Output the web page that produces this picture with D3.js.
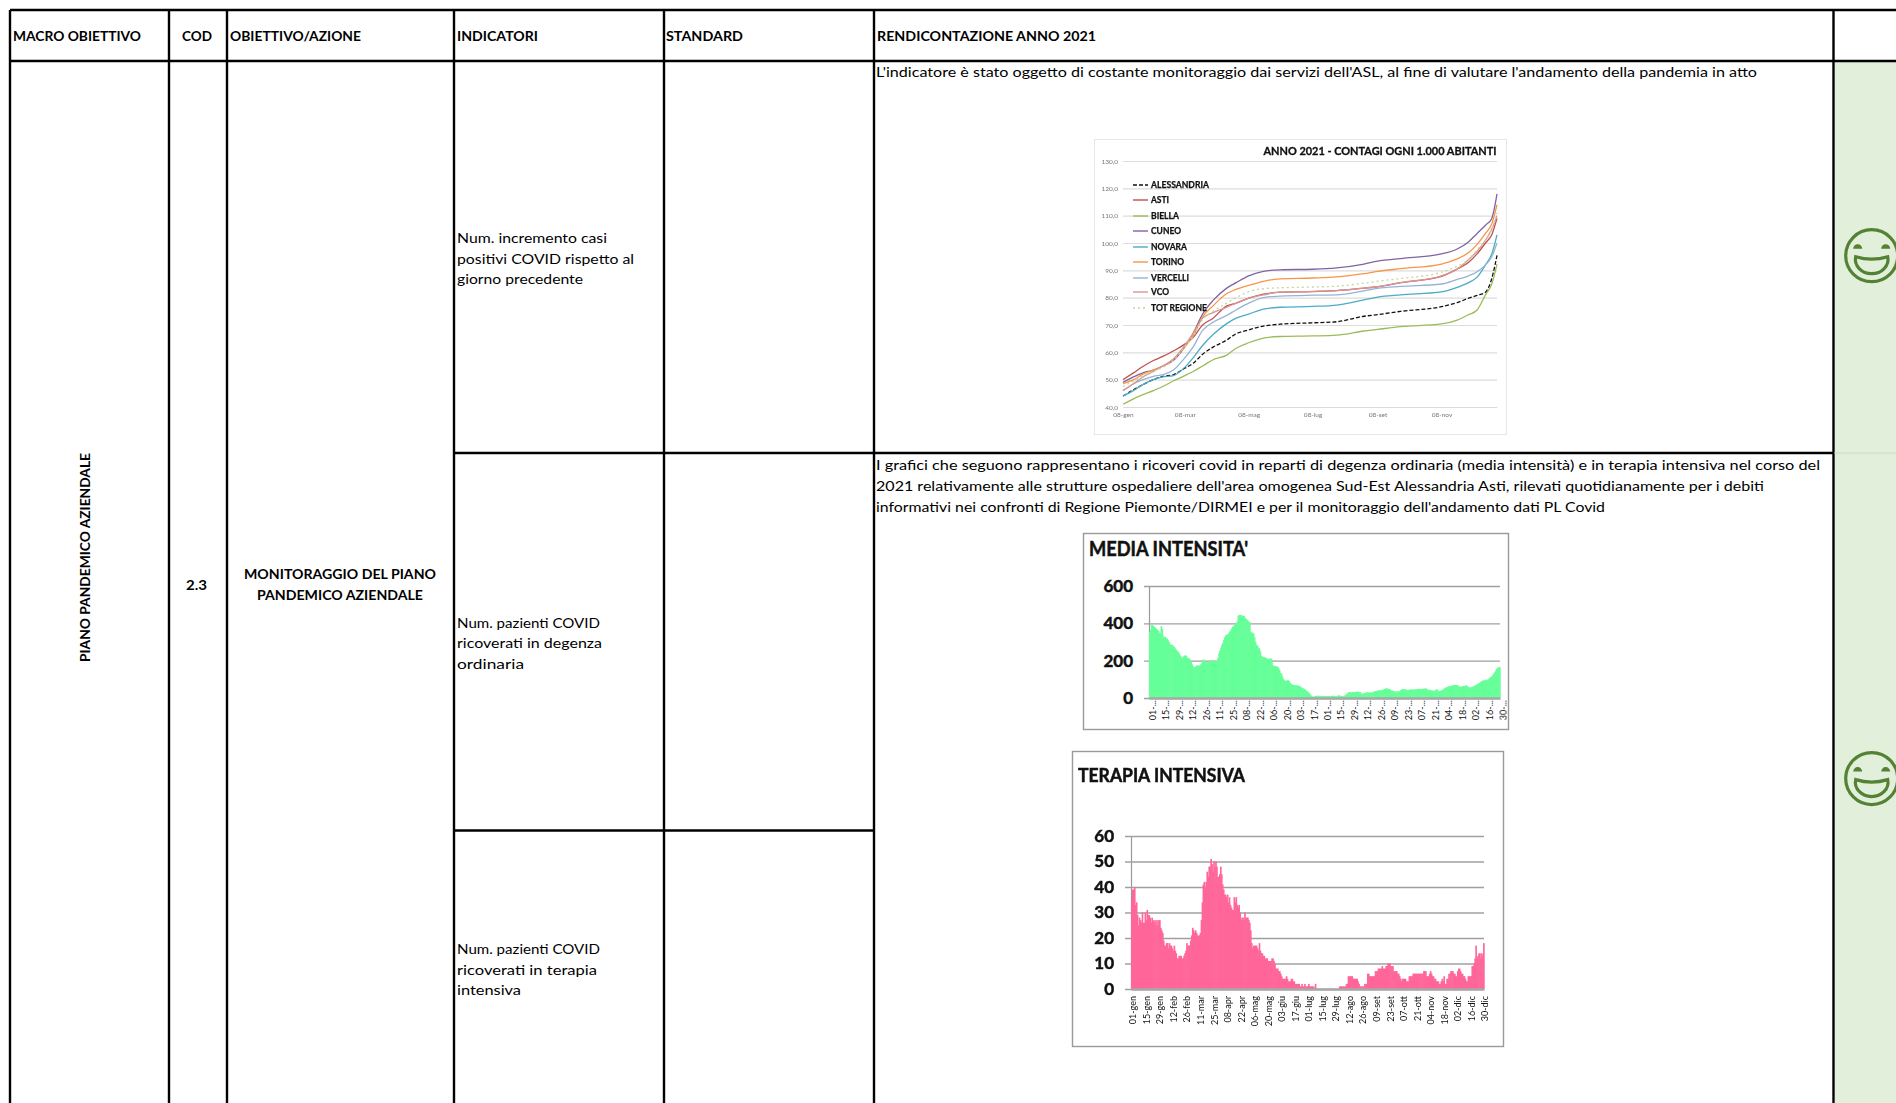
<!DOCTYPE html>
<html lang="it">
<head>
<meta charset="utf-8">
<title>Monitoraggio del piano pandemico aziendale</title>
<script src="https://cdn.jsdelivr.net/npm/d3@7"></script>
<style>
  html, body { margin: 0; background: #fff; overflow: hidden; }
  svg { display: block; font-family: Lato, "Open Sans", sans-serif; }
  .soft { filter: blur(0.55px); }
  .softer { filter: blur(0.3px); }
</style>
</head>
<body>
<svg id="sheet" width="1896" height="1103"></svg>
<script>
// ---- Contagi ogni 1.000 abitanti ----
const contagiDates = ["2021-01-08","2021-01-18","2021-01-27","2021-02-06","2021-02-15","2021-02-25","2021-03-08","2021-03-16","2021-03-25","2021-04-04","2021-04-17","2021-04-26","2021-05-08","2021-05-22","2021-06-07","2021-07-08","2021-07-31","2021-08-26","2021-09-08","2021-09-30","2021-11-08","2021-11-23","2021-12-04","2021-12-12","2021-12-20","2021-12-26","2021-12-31"];
const alessandria = [44,46.3,48.2,50,51.2,51.8,54.2,56,59.3,61.9,64.5,66.8,68.2,69.6,70.3,70.8,71.2,73.2,73.8,75,76.7,78.2,79.8,80.8,82,87,95.5];
const asti        = [50,52.5,54.8,57,58.5,60.5,63,65.5,70,72.5,77,78,79.8,81.3,82,82.2,82.6,83.5,84,85.5,87.8,90.5,93,96,100,103,109];
const biella      = [41,43,44.5,46,47.5,49.5,51.5,53,55,57.3,59,61.5,63.5,65.2,65.8,66,66.3,67.8,68.4,69.4,70.4,71.8,73.8,75.5,81,85,92.3];
const cuneo       = [49,51,52.5,53.5,55,57,62,67,74,79,83.5,85.5,88,89.6,90.2,90.4,90.9,92.3,93.4,94.3,96,97.8,100.5,103.5,106.5,109,118];
const novara      = [44,46,48.2,50,51,51.5,54.5,58,62.5,66.5,70.5,72.5,74,75.8,76.5,76.8,77.3,79.2,80.2,81,82.1,83.8,85.5,87.5,92,96,103];
const torino      = [48.5,50,52,53.5,55,57.5,62,66,73,77,81.5,83,84.5,86,86.9,87.2,87.6,88.8,89.6,90.6,92.3,94.2,96.5,99.5,103.5,107,114];
const vercelli    = [46,48.5,50,51.2,51.8,53.5,58,62,68,71,73.5,75.5,78,80,80.6,80.9,81,82.5,83.4,84.1,85,86.7,88,89.5,92,95,100];
const vco         = [46,48.5,51,53,55,57.5,62.5,67,72.5,74.5,76.5,78,79.8,81,82,82.3,82.6,83.5,84,85.5,88,90.5,94,97,101,105,110];
const totRegione  = [47.5,49.5,51.5,53,54.5,57,62,66,72,75,78,80,82.2,83.3,83.6,83.9,84.2,85.3,86,87,89.3,91.5,94,97.5,101,105,111];
const contagiNames  = ["ALESSANDRIA","ASTI","BIELLA","CUNEO","NOVARA","TORINO","VERCELLI","VCO","TOT REGIONE"];
const contagiValues = [alessandria,asti,biella,cuneo,novara,torino,vercelli,vco,totRegione];
const contagiColors = ["#111111","#c0504d","#9bbb59","#8064a2","#4bacc6","#f79646","#95b3d7","#d99694","#c3d69b"];
const contagiDashes = ["4 2",null,null,null,null,null,null,null,"2 3"];
const contagiYTicks = [40,50,60,70,80,90,100,110,120,130];
const contagiXTicks = ["2021-01-08","2021-03-08","2021-05-08","2021-07-08","2021-09-08","2021-11-08"];
const contagiXLabels = ["08-gen","08-mar","08-mag","08-lug","08-set","08-nov"];

// ---- Ricoveri giornalieri, 365 giorni, una riga ogni 14 giorni ----
const mediaIntensita = [
  355,365,395,390,385,380,375,370,365,360,350,345,385,370,
  330,325,328,320,318,310,300,290,285,285,282,275,270,262,
  255,250,245,235,225,215,215,222,225,230,225,215,215,210,
  205,195,180,170,165,165,170,175,175,170,175,180,185,205,
  205,195,195,190,195,195,195,195,200,200,200,198,195,200,
  200,215,240,255,270,285,295,310,325,335,340,340,345,355,
  360,370,380,385,390,395,400,410,440,445,445,445,440,440,
  440,430,425,420,415,410,405,355,350,350,345,325,300,285,
  280,270,265,250,225,220,220,220,215,215,210,210,205,212,
  212,205,175,172,172,170,168,168,160,150,135,130,115,100,
  95,92,92,95,95,90,80,75,72,70,70,68,68,68,
  66,65,62,60,55,52,50,48,42,38,35,30,25,20,
  12,8,7,8,10,10,12,12,12,10,10,12,10,10,
  10,10,10,10,10,10,10,10,12,12,10,10,10,10,
  14,14,12,10,8,10,12,14,18,22,28,30,32,30,
  30,32,30,32,32,34,32,34,30,32,24,22,24,26,
  26,30,30,30,28,30,28,30,30,34,36,36,38,40,
  40,42,42,40,44,44,48,50,52,50,50,48,45,40,
  40,38,36,34,34,36,34,36,36,42,46,48,48,46,
  46,44,42,44,44,46,46,46,44,46,46,46,48,48,
  50,48,48,50,48,50,50,52,48,44,44,42,42,40,
  40,38,38,42,46,46,36,38,38,40,42,46,50,54,
  56,58,60,62,62,64,66,68,68,70,68,70,68,66,
  60,60,60,62,64,62,66,68,64,58,58,56,55,60,
  60,62,66,70,72,74,78,80,85,90,92,94,95,95,
  98,95,100,105,110,112,118,125,132,140,150,158,162,165,165
];
const terapiaIntensiva = [
  35,39,39,40,33,34,29,25,28,27,26,30,26,26,
  30,27,31,29,29,28,26,28,27,26,27,25,27,25,
  27,27,24,23,22,19,17,17,18,18,16,18,17,17,
  16,15,17,15,14,12,12,13,13,13,12,12,13,14,
  15,18,17,17,17,19,21,24,23,22,23,22,21,21,
  21,22,27,34,41,42,40,42,46,44,48,48,51,49,
  46,50,48,50,48,44,44,45,48,45,41,39,37,37,
  36,37,34,36,33,32,31,31,36,34,36,33,32,33,
  30,27,28,28,27,30,28,28,28,27,26,23,18,16,
  17,17,17,17,16,15,18,15,14,14,13,13,12,12,
  12,11,11,11,11,12,12,11,10,8,8,8,7,7,
  6,5,4,4,4,4,5,4,3,3,3,4,4,3,
  3,2,2,2,2,2,1,1,2,1,1,2,1,1,
  1,2,1,1,1,1,1,0,2,0,0,0,0,0,
  0,0,0,0,0,0,0,0,0,0,0,0,0,0,
  0,0,0,0,0,1,1,1,1,1,1,1,2,2,
  5,5,5,5,5,4,4,4,4,4,3,2,1,1,
  1,1,1,2,2,2,6,6,5,5,5,5,5,5,
  7,7,7,8,8,8,8,9,8,8,8,9,9,10,
  10,10,9,9,9,7,7,7,7,6,6,5,4,3,
  4,4,4,4,3,3,3,5,5,5,5,6,6,6,
  6,6,6,6,6,6,6,6,7,7,7,5,5,5,
  6,7,6,5,5,4,4,3,3,3,2,2,3,4,
  3,5,2,2,4,4,6,6,7,7,7,6,6,5,
  5,7,8,8,7,6,6,5,5,4,3,3,5,5,
  5,5,9,9,10,12,17,12,13,14,14,12,14,13,18
];
const mediaYTicks = [0,200,400,600];
const terapiaYTicks = [0,10,20,30,40,50,60];
const mediaLabels = ["01-...","15-...","29-...","12-...","26-...","11-...","25-...","08-...","22-...","06-...","20-...","03-...","17-...","01-...","15-...","29-...","12-...","26-...","09-...","23-...","07-...","21-...","04-...","18-...","02-...","16-...","30-..."];
const terapiaLabels = ["01-gen","15-gen","29-gen","12-feb","26-feb","11-mar","25-mar","08-apr","22-apr","06-mag","20-mag","03-giu","17-giu","01-lug","15-lug","29-lug","12-ago","26-ago","09-set","23-set","07-ott","21-ott","04-nov","18-nov","02-dic","16-dic","30-dic"];

const svg = d3.select("#sheet");
const INK = "#000";

// Text helper: stretches a run to the width it occupies in the sheet
function put(g, str, x, y, w, opts = {}) {
  const t = g.append("text")
    .attr("x", x).attr("y", y)
    .attr("font-size", opts.size || 14)
    .attr("font-weight", opts.bold ? 700 : 400)
    .attr("fill", opts.fill || INK)
    .attr("text-anchor", opts.anchor || "start")
    .attr("textLength", w)
    .attr("lengthAdjust", "spacingAndGlyphs")
    .text(str);
  if (opts.heavy) t.attr("stroke", opts.fill || INK).attr("stroke-width", opts.heavy);
  return t;
}

// ---- Griglia della tabella ----
const table = svg.append("g");
table.append("rect").attr("x", 1835).attr("y", 62).attr("width", 61).attr("height", 1041).attr("fill", "#e2efda");

const rules = [
  [10,10,1896,10],[10,61,1896,61],
  [10,10,10,1103],[169,10,169,1103],[227,10,227,1103],[454,10,454,1103],
  [664,10,664,1103],[874,10,874,1103],[1833.5,10,1833.5,1103],
  [454,453,1834,453],[454,830.5,874,830.5]
];
table.selectAll("line.rule").data(rules).join("line").attr("class","rule")
  .attr("x1", d => d[0]).attr("y1", d => d[1]).attr("x2", d => d[2]).attr("y2", d => d[3])
  .attr("stroke", INK).attr("stroke-width", 2.4);
table.append("line").attr("x1",1834).attr("x2",1896).attr("y1",453).attr("y2",453).attr("stroke","#c6d5bc").attr("stroke-width",0.8);

// Intestazioni
[["MACRO OBIETTIVO",13,128],["COD",182,30],["OBIETTIVO/AZIONE",230,131],["INDICATORI",457,81],["STANDARD",666,77],["RENDICONTAZIONE ANNO 2021",877,219]]
  .forEach(([t,x,w]) => put(table, t, x, 41, w, {bold:true, size:14}));

// Colonne di sinistra
put(table.append("g").attr("transform","translate(90,662) rotate(-90)"), "PIANO PANDEMICO AZIENDALE", 0, 0, 209, {bold:true});
put(table, "2.3", 186, 590, 21, {bold:true});
put(table, "MONITORAGGIO DEL PIANO", 244, 579, 192, {bold:true});
put(table, "PANDEMICO AZIENDALE", 257, 600, 166, {bold:true});

// Indicatori
[["Num. incremento casi",243,150],["positivi COVID rispetto al",264,177],["giorno precedente",284,126],
 ["Num. pazienti COVID",628,143],["ricoverati in degenza",648,145],["ordinaria",669,67],
 ["Num. pazienti COVID",954,143],["ricoverati in terapia",975,140],["intensiva",995,64]]
  .forEach(([t,y,w]) => put(table, t, 457, y, w));

// Rendicontazione
[["L'indicatore è stato oggetto di costante monitoraggio dai servizi dell'ASL, al fine di valutare l'andamento della pandemia in atto",77,881],
 ["I grafici che seguono rappresentano i ricoveri covid in reparti di degenza ordinaria (media intensità) e in terapia intensiva nel corso del",470,944],
 ["2021 relativamente alle strutture ospedaliere dell'area omogenea Sud-Est Alessandria Asti, rilevati quotidianamente per i debiti",491,888],
 ["informativi nei confronti di Regione Piemonte/DIRMEI e per il monitoraggio dell'andamento dati PL Covid",512,729]]
  .forEach(([t,y,w]) => put(table, t, 876, y, w));

// Faccine di valutazione
[255.7, 778.6].forEach(cy => {
  const f = svg.append("g").attr("transform", `translate(1871.7,${cy})`)
    .attr("fill","none").attr("stroke","#548235").attr("stroke-width",3.2);
  f.append("circle").attr("r", 26);
  f.append("path").attr("d","M-16 1 Q0 6 16 1 C18 10 10 18 0 18 C-10 18 -18 10 -16 1Z");
  f.append("path").attr("d","M-18.5 -7 a4.5 4.5 0 0 1 9 0Z M9.5 -7 a4.5 4.5 0 0 1 9 0Z").attr("fill","#548235").attr("stroke","none");
});

// ---- Grafico a linee dei contagi ----
(function drawContagi() {
  const g = svg.append("g").attr("class","soft");
  g.append("rect").attr("x",1094.5).attr("y",139.5).attr("width",412).attr("height",295)
    .attr("fill","#fff").attr("stroke","#e6e6e6");
  const parse = d3.timeParse("%Y-%m-%d");
  const x = d3.scaleTime().domain([parse("2021-01-08"), parse("2021-12-31")]).range([1123,1497]);
  const y = d3.scaleLinear().domain([40,130]).range([407,161]);

  const ya = g.append("g").attr("transform","translate(1123,0)")
    .call(d3.axisLeft(y).tickValues(contagiYTicks).tickSize(-374).tickPadding(5)
      .tickFormat(d => d.toFixed(1).replace(".", ",")));
  ya.select(".domain").remove();
  ya.selectAll("line").attr("stroke","#dcdcdc").attr("stroke-width",1.1);
  ya.selectAll("text").attr("font-size",6.5).attr("fill","#777").attr("font-family","Lato");

  const xa = g.append("g").attr("transform","translate(0,407)")
    .call(d3.axisBottom(x).tickValues(contagiXTicks.map(parse)).tickSize(0).tickPadding(5)
      .tickFormat((d,i) => contagiXLabels[i]));
  xa.select(".domain").attr("stroke","#dcdcdc");
  xa.selectAll("text").attr("font-size",6.5).attr("fill","#777").attr("font-family","Lato");

  const line = d3.line().x((d,i) => x(parse(contagiDates[i]))).y(d => y(d)).curve(d3.curveMonotoneX);
  g.selectAll("path.serie").data(contagiValues).join("path").attr("class","serie")
    .attr("fill","none").attr("d", line)
    .attr("stroke",(d,i) => contagiColors[i]).attr("stroke-width",1.3)
    .attr("stroke-dasharray",(d,i) => contagiDashes[i]);

  const rows = [185,200,216,231,247,262,278,292,308];
  const widths = [58,18,28,30,36,33,38,18,56];
  contagiNames.forEach((n,i) => {
    g.append("line").attr("x1",1133).attr("x2",1148).attr("y1",rows[i]).attr("y2",rows[i])
      .attr("stroke",contagiColors[i]).attr("stroke-width",1.4).attr("stroke-dasharray",contagiDashes[i]);
    put(g, n, 1151, rows[i]+3, widths[i], {bold:true, size:8.5, fill:"#111", heavy:0.25});
  });
  put(g, "ANNO 2021 - CONTAGI OGNI 1.000 ABITANTI", 1263.5, 155, 233, {bold:true, size:11, fill:"#111", heavy:0.3});
})();

// ---- Aree dei ricoveri ----
function drawRicoveri(o) {
  const g = svg.append("g").attr("class","softer");
  g.append("rect").attr("x",o.frame[0]).attr("y",o.frame[1]).attr("width",o.frame[2]).attr("height",o.frame[3])
    .attr("fill","#fff").attr("stroke","#999").attr("stroke-width",1.4);
  put(g, o.title, o.titleX, o.titleY, o.titleW, {bold:true, size:o.titleSize, fill:"#111", heavy:0.5});

  const x = d3.scaleBand().domain(d3.range(o.values.length)).range([o.x0,o.x1]);
  const y = d3.scaleLinear().domain([0,o.max]).range([o.y0,o.y1]);

  const ya = g.append("g").attr("transform",`translate(${o.x0},0)`)
    .call(d3.axisLeft(y).tickValues(o.yTicks).tickSize(-(o.x1-o.x0)).tickPadding(o.yPad));
  ya.select(".domain").attr("stroke","#999").attr("stroke-width",1.2);
  ya.selectAll("line").attr("stroke","#a0a0a0").attr("stroke-width",1.4).attr("x1",o.x1-o.x0).attr("x2",-o.gridOut);
  ya.selectAll("text").attr("font-size",o.ySize).attr("font-weight",700).attr("fill","#111")
    .attr("font-family","Lato").attr("stroke","#111").attr("stroke-width",0.5);

  g.selectAll("rect.giorno").data(o.values).join("rect").attr("class","giorno")
    .attr("x",(d,i) => x(i)).attr("width",x.bandwidth()+0.7)
    .attr("y",d => y(d)).attr("height",d => o.y0 - y(d))
    .attr("fill",o.fill);

  const step = 14;
  const xa = g.append("g").attr("transform",`translate(0,${o.y0})`)
    .call(d3.axisBottom(x).tickValues(d3.range(0,o.values.length,step)).tickSize(0)
      .tickFormat((d,i) => o.labels[i]));
  xa.select(".domain").attr("stroke","#a8a8a8").attr("stroke-width",2.6);
  xa.selectAll("text")
    .attr("transform",`translate(${o.labelDx},${o.labelDy}) rotate(-90)`)
    .attr("text-anchor","end").attr("dx",0).attr("dy",0).attr("y",0).attr("x",0)
    .attr("dominant-baseline","central")
    .attr("font-size",o.labelSize).attr("font-weight",o.labelWeight).attr("fill","#111").attr("font-family","Lato");
}

drawRicoveri({
  values: mediaIntensita, labels: mediaLabels, yTicks: mediaYTicks, max: 600, fill: "#66ff99",
  frame: [1083.5,533.5,425,196], title: "MEDIA INTENSITA'", titleX: 1089, titleY: 556, titleW: 159, titleSize: 20,
  x0: 1149, x1: 1500, y0: 698, y1: 586, gridOut: 5, yPad: 16, ySize: 17,
  labelDx: 3, labelDy: 2, labelSize: 9, labelWeight: 400
});
drawRicoveri({
  values: terapiaIntensiva, labels: terapiaLabels, yTicks: terapiaYTicks, max: 60, fill: "#ff6699",
  frame: [1072.5,751.5,431,295], title: "TERAPIA INTENSIVA", titleX: 1078, titleY: 782, titleW: 167, titleSize: 18,
  x0: 1131, x1: 1484, y0: 989, y1: 836, gridOut: 6, yPad: 17, ySize: 17,
  labelDx: 1.3, labelDy: 7, labelSize: 9, labelWeight: 400
});
</script>
</body>
</html>
